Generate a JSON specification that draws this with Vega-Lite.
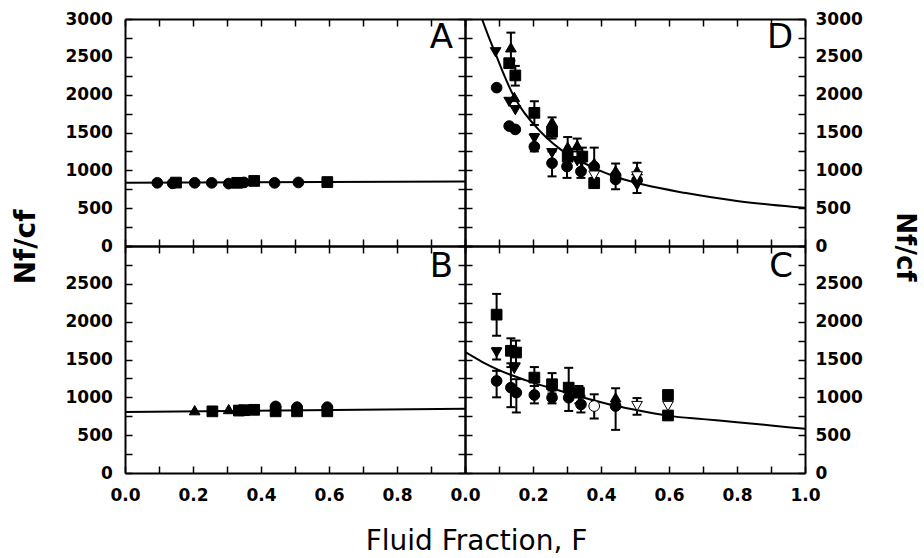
{
  "$schema": "https://vega.github.io/schema/vega-lite/v6.json",
  "padding": {"left": 12, "top": 10, "right": 2, "bottom": 2},
  "datasets": {
    "curves": [
      {"p": "A", "F": 0, "v": 835}, {"p": "A", "F": 1, "v": 853},
      {"p": "B", "F": 0, "v": 805}, {"p": "B", "F": 1, "v": 850},
      {"p": "D", "F": 0.05, "v": 3000}, {"p": "D", "F": 0.07, "v": 2760}, {"p": "D", "F": 0.09, "v": 2540},
      {"p": "D", "F": 0.115, "v": 2260}, {"p": "D", "F": 0.14, "v": 2010}, {"p": "D", "F": 0.17, "v": 1790},
      {"p": "D", "F": 0.2, "v": 1620}, {"p": "D", "F": 0.24, "v": 1430}, {"p": "D", "F": 0.28, "v": 1280},
      {"p": "D", "F": 0.34, "v": 1120}, {"p": "D", "F": 0.4, "v": 990}, {"p": "D", "F": 0.45, "v": 905},
      {"p": "D", "F": 0.53, "v": 805}, {"p": "D", "F": 0.65, "v": 700}, {"p": "D", "F": 0.8, "v": 595},
      {"p": "D", "F": 0.9, "v": 545}, {"p": "D", "F": 1, "v": 504},
      {"p": "C", "F": 0, "v": 1600}, {"p": "C", "F": 0.05, "v": 1470}, {"p": "C", "F": 0.1, "v": 1360},
      {"p": "C", "F": 0.2, "v": 1194}, {"p": "C", "F": 0.3, "v": 1060}, {"p": "C", "F": 0.4, "v": 935},
      {"p": "C", "F": 0.5, "v": 835}, {"p": "C", "F": 0.6, "v": 755}, {"p": "C", "F": 0.7, "v": 712},
      {"p": "C", "F": 0.8, "v": 672}, {"p": "C", "F": 0.9, "v": 628}, {"p": "C", "F": 1, "v": 584}
    ],
    "pts": [
      {"p": "A", "F": 0.095, "v": 835, "s": "circle"},
      {"p": "A", "F": 0.14, "v": 828, "s": "circle"},
      {"p": "A", "F": 0.15, "v": 838, "s": "square"},
      {"p": "A", "F": 0.205, "v": 835, "s": "circle"},
      {"p": "A", "F": 0.255, "v": 835, "s": "circle"},
      {"p": "A", "F": 0.305, "v": 825, "s": "circle"},
      {"p": "A", "F": 0.33, "v": 835, "s": "square"},
      {"p": "A", "F": 0.35, "v": 840, "s": "circle"},
      {"p": "A", "F": 0.38, "v": 860, "s": "square"},
      {"p": "A", "F": 0.44, "v": 835, "s": "circle"},
      {"p": "A", "F": 0.51, "v": 840, "s": "circle"},
      {"p": "A", "F": 0.595, "v": 845, "s": "square"},
      {"p": "B", "F": 0.205, "v": 830, "s": "up"},
      {"p": "B", "F": 0.257, "v": 815, "s": "square"},
      {"p": "B", "F": 0.305, "v": 845, "s": "up"},
      {"p": "B", "F": 0.335, "v": 825, "s": "square"},
      {"p": "B", "F": 0.35, "v": 830, "s": "square"},
      {"p": "B", "F": 0.38, "v": 835, "s": "square"},
      {"p": "B", "F": 0.443, "v": 880, "s": "circle"},
      {"p": "B", "F": 0.443, "v": 815, "s": "square"},
      {"p": "B", "F": 0.506, "v": 870, "s": "circle"},
      {"p": "B", "F": 0.506, "v": 815, "s": "square"},
      {"p": "B", "F": 0.595, "v": 870, "s": "circle"},
      {"p": "B", "F": 0.595, "v": 815, "s": "square"},
      {"p": "D", "F": 0.09, "v": 2560, "s": "down"},
      {"p": "D", "F": 0.093, "v": 2093, "s": "circle"},
      {"p": "D", "F": 0.13, "v": 2416, "s": "square"},
      {"p": "D", "F": 0.135, "v": 2626, "s": "up", "lo": 2450, "hi": 2820},
      {"p": "D", "F": 0.148, "v": 2254, "s": "square", "lo": 2120, "hi": 2380},
      {"p": "D", "F": 0.145, "v": 1970, "s": "up"},
      {"p": "D", "F": 0.13, "v": 1904, "s": "down"},
      {"p": "D", "F": 0.148, "v": 1795, "s": "down"},
      {"p": "D", "F": 0.13, "v": 1585, "s": "circle"},
      {"p": "D", "F": 0.148, "v": 1541, "s": "circle"},
      {"p": "D", "F": 0.204, "v": 1760, "s": "square", "lo": 1600, "hi": 1913},
      {"p": "D", "F": 0.204, "v": 1420, "s": "down"},
      {"p": "D", "F": 0.204, "v": 1313, "s": "circle", "lo": 1250, "hi": 1480},
      {"p": "D", "F": 0.256, "v": 1641, "s": "up", "lo": 1580, "hi": 1700},
      {"p": "D", "F": 0.256, "v": 1510, "s": "square", "lo": 1420, "hi": 1600},
      {"p": "D", "F": 0.256, "v": 1226, "s": "down"},
      {"p": "D", "F": 0.256, "v": 1095, "s": "circle", "lo": 920, "hi": 1250},
      {"p": "D", "F": 0.302, "v": 1313, "s": "up", "lo": 1200, "hi": 1440},
      {"p": "D", "F": 0.302, "v": 1180, "s": "square"},
      {"p": "D", "F": 0.3, "v": 1050, "s": "circle", "lo": 900, "hi": 1200},
      {"p": "D", "F": 0.33, "v": 1335, "s": "up", "lo": 1250, "hi": 1420},
      {"p": "D", "F": 0.33, "v": 1120, "s": "down"},
      {"p": "D", "F": 0.345, "v": 1182, "s": "square", "lo": 1000, "hi": 1300},
      {"p": "D", "F": 0.341, "v": 985, "s": "circle", "lo": 900, "hi": 1100},
      {"p": "D", "F": 0.38, "v": 1100, "s": "up", "lo": 1000, "hi": 1300},
      {"p": "D", "F": 0.38, "v": 1050, "s": "circle"},
      {"p": "D", "F": 0.38, "v": 830, "s": "square", "lo": 790, "hi": 900},
      {"p": "D", "F": 0.38, "v": 930, "s": "down", "o": 1},
      {"p": "D", "F": 0.443, "v": 1000, "s": "up", "lo": 930, "hi": 1090},
      {"p": "D", "F": 0.443, "v": 930, "s": "circle"},
      {"p": "D", "F": 0.443, "v": 880, "s": "circle", "lo": 750, "hi": 960},
      {"p": "D", "F": 0.506, "v": 1000, "s": "up", "lo": 900, "hi": 1100},
      {"p": "D", "F": 0.506, "v": 870, "s": "circle"},
      {"p": "D", "F": 0.506, "v": 800, "s": "down", "lo": 700, "hi": 880},
      {"p": "D", "F": 0.506, "v": 920, "s": "down", "o": 1},
      {"p": "C", "F": 0.093, "v": 2093, "s": "square", "lo": 1814, "hi": 2367},
      {"p": "C", "F": 0.093, "v": 1592, "s": "down", "lo": 1500, "hi": 1650},
      {"p": "C", "F": 0.093, "v": 1217, "s": "circle", "lo": 1000, "hi": 1350},
      {"p": "C", "F": 0.135, "v": 1615, "s": "square", "lo": 1450, "hi": 1780},
      {"p": "C", "F": 0.15, "v": 1592, "s": "square", "lo": 1450, "hi": 1750},
      {"p": "C", "F": 0.145, "v": 1376, "s": "down"},
      {"p": "C", "F": 0.135, "v": 1128, "s": "circle", "lo": 870, "hi": 1400},
      {"p": "C", "F": 0.151, "v": 1062, "s": "circle", "lo": 800, "hi": 1240},
      {"p": "C", "F": 0.204, "v": 1261, "s": "square", "lo": 1150, "hi": 1400},
      {"p": "C", "F": 0.204, "v": 1031, "s": "circle", "lo": 920, "hi": 1150},
      {"p": "C", "F": 0.256, "v": 1173, "s": "square", "lo": 1050, "hi": 1320},
      {"p": "C", "F": 0.256, "v": 1100, "s": "down"},
      {"p": "C", "F": 0.256, "v": 995, "s": "circle", "lo": 920, "hi": 1090},
      {"p": "C", "F": 0.305, "v": 1128, "s": "square", "lo": 1000, "hi": 1390},
      {"p": "C", "F": 0.305, "v": 995, "s": "circle", "lo": 820, "hi": 1100},
      {"p": "C", "F": 0.335, "v": 1062, "s": "square", "lo": 920, "hi": 1150},
      {"p": "C", "F": 0.341, "v": 907, "s": "circle", "lo": 800, "hi": 1020},
      {"p": "C", "F": 0.38, "v": 885, "s": "circle", "o": 1, "lo": 720, "hi": 1040},
      {"p": "C", "F": 0.443, "v": 1000, "s": "up"},
      {"p": "C", "F": 0.443, "v": 885, "s": "circle", "lo": 570, "hi": 1120},
      {"p": "C", "F": 0.506, "v": 885, "s": "down", "o": 1, "lo": 770, "hi": 990},
      {"p": "C", "F": 0.597, "v": 1031, "s": "square"},
      {"p": "C", "F": 0.597, "v": 760, "s": "square", "lo": 720, "hi": 800},
      {"p": "C", "F": 0.597, "v": 885, "s": "down", "o": 1}
    ],
    "letters": [
      {"p": "A", "F": 0.965, "v": 2750, "t": "A"},
      {"p": "D", "F": 0.965, "v": 2750, "t": "D"},
      {"p": "B", "F": 0.965, "v": 2720, "t": "B"},
      {"p": "C", "F": 0.965, "v": 2720, "t": "C"}
    ]
  },
  "columns": 2,
  "spacing": 0,
  "bounds": "flush",
  "concat": [
    {
      "width": 340, "height": 227,
      "resolve": {"axis": {"x": "independent", "y": "independent"}},
      "layer": [
        {"data": {"name": "curves"}, "transform": [{"filter": "datum.p === 'A'"}],
         "mark": {"type": "line", "color": "black", "strokeWidth": 2, "clip": true},
         "encoding": {
           "x": {"field": "F", "type": "quantitative", "scale": {"domain": [0, 1], "nice": false, "zero": false},
                 "axis": {"orient": "bottom", "values": [0,0.1,0.2,0.3,0.4,0.5,0.6,0.7,0.8,0.9,1], "labels": false, "title": null}},
           "y": {"field": "v", "type": "quantitative", "scale": {"domain": [0, 3000], "nice": false},
                 "axis": {"orient": "left", "values": [0,250,500,750,1000,1250,1500,1750,2000,2250,2500,2750,3000],
                          "labelExpr": "datum.value % 500 === 0 ? format(datum.value, 'd') : ''",
                          "title": "Nf/cf", "titleAngle": -90, "titleBaseline": "alphabetic", "titleAlign": "center", "titleX": -91, "titleY": 227.5}}
         }},
        {"data": {"name": "pts"}, "transform": [{"filter": "datum.p === 'A'"}],
         "mark": {"type": "point", "filled": true, "opacity": 1, "size": 115, "stroke": "black", "strokeWidth": 1},
         "encoding": {
           "x": {"field": "F", "type": "quantitative", "axis": {"orient": "top", "values": [0,0.1,0.2,0.3,0.4,0.5,0.6,0.7,0.8,0.9,1], "labels": false, "title": null}},
           "y": {"field": "v", "type": "quantitative", "axis": {"orient": "right", "values": [0,250,500,750,1000,1250,1500,1750,2000,2250,2500,2750,3000], "labels": false, "title": null}},
           "shape": {"field": "s", "type": "nominal", "scale": {"domain": ["circle", "square", "up", "down"], "range": ["circle", "square", "triangle-up", "triangle-down"]}, "legend": null},
           "fill": {"condition": {"test": "datum.o === 1", "value": "white"}, "value": "black"}
         }},
        {"data": {"name": "letters"}, "transform": [{"filter": "datum.p === 'A'"}],
         "mark": {"type": "text", "align": "right", "baseline": "middle", "font": "DejaVu Sans", "fontSize": 34, "color": "black"},
         "encoding": {"x": {"field": "F", "type": "quantitative", "axis": null}, "y": {"field": "v", "type": "quantitative", "axis": null}, "text": {"field": "t"}}}
      ]
    },
    {
      "width": 340, "height": 227,
      "resolve": {"axis": {"x": "independent", "y": "independent"}},
      "layer": [
        {"data": {"name": "curves"}, "transform": [{"filter": "datum.p === 'D'"}],
         "mark": {"type": "line", "color": "black", "strokeWidth": 2, "clip": true, "interpolate": "monotone"},
         "encoding": {
           "x": {"field": "F", "type": "quantitative", "scale": {"domain": [0, 1], "nice": false, "zero": false},
                 "axis": {"orient": "bottom", "values": [0,0.1,0.2,0.3,0.4,0.5,0.6,0.7,0.8,0.9,1], "labels": false, "title": null}},
           "y": {"field": "v", "type": "quantitative", "scale": {"domain": [0, 3000], "nice": false},
                 "axis": {"orient": "right", "values": [0,250,500,750,1000,1250,1500,1750,2000,2250,2500,2750,3000],
                          "labelExpr": "datum.value % 500 === 0 ? format(datum.value, 'd') : ''", "labelPadding": 17,
                          "title": "Nf/cf", "titleFontSize": 26, "titleAngle": 90, "titleBaseline": "alphabetic", "titleAlign": "center", "titleX": 91, "titleY": 227.5}}
         }},
        {"data": {"name": "pts"}, "transform": [{"filter": "datum.p === 'D' && isValid(datum.lo)"}],
         "mark": {"type": "rule", "color": "black", "strokeWidth": 2},
         "encoding": {"x": {"field": "F", "type": "quantitative", "axis": null}, "y": {"field": "lo", "type": "quantitative", "axis": null}, "y2": {"field": "hi"}}},
        {"data": {"name": "pts"}, "transform": [{"filter": "datum.p === 'D' && isValid(datum.lo)"}],
         "mark": {"type": "tick", "orient": "horizontal", "color": "black", "size": 9, "thickness": 2, "opacity": 1},
         "encoding": {"x": {"field": "F", "type": "quantitative", "axis": null}, "y": {"field": "lo", "type": "quantitative", "axis": null}}},
        {"data": {"name": "pts"}, "transform": [{"filter": "datum.p === 'D' && isValid(datum.lo)"}],
         "mark": {"type": "tick", "orient": "horizontal", "color": "black", "size": 9, "thickness": 2, "opacity": 1},
         "encoding": {"x": {"field": "F", "type": "quantitative", "axis": null}, "y": {"field": "hi", "type": "quantitative", "axis": null}}},
        {"data": {"name": "pts"}, "transform": [{"filter": "datum.p === 'D'"}],
         "mark": {"type": "point", "filled": true, "opacity": 1, "size": 115, "stroke": "black", "strokeWidth": 1},
         "encoding": {
           "x": {"field": "F", "type": "quantitative", "axis": {"orient": "top", "values": [0,0.1,0.2,0.3,0.4,0.5,0.6,0.7,0.8,0.9,1], "labels": false, "title": null}},
           "y": {"field": "v", "type": "quantitative", "axis": {"orient": "left", "values": [0,250,500,750,1000,1250,1500,1750,2000,2250,2500,2750,3000], "labels": false, "title": null}},
           "shape": {"field": "s", "type": "nominal", "scale": {"domain": ["circle", "square", "up", "down"], "range": ["circle", "square", "triangle-up", "triangle-down"]}, "legend": null},
           "fill": {"condition": {"test": "datum.o === 1", "value": "white"}, "value": "black"}
         }},
        {"data": {"name": "letters"}, "transform": [{"filter": "datum.p === 'D'"}],
         "mark": {"type": "text", "align": "right", "baseline": "middle", "font": "DejaVu Sans", "fontSize": 34, "color": "black"},
         "encoding": {"x": {"field": "F", "type": "quantitative", "axis": null}, "y": {"field": "v", "type": "quantitative", "axis": null}, "text": {"field": "t"}}}
      ]
    },
    {
      "width": 340, "height": 227,
      "resolve": {"axis": {"x": "independent", "y": "independent"}},
      "layer": [
        {"data": {"name": "curves"}, "transform": [{"filter": "datum.p === 'B'"}],
         "mark": {"type": "line", "color": "black", "strokeWidth": 2, "clip": true},
         "encoding": {
           "x": {"field": "F", "type": "quantitative", "scale": {"domain": [0, 1], "nice": false, "zero": false},
                 "axis": {"orient": "bottom", "values": [0,0.1,0.2,0.3,0.4,0.5,0.6,0.7,0.8,0.9,1], "labelPadding": 21,
                          "labelExpr": "indexof([0,0.2,0.4,0.6,0.8], datum.value) >= 0 ? format(datum.value, '.1f') : ''",
                          "title": "Fluid Fraction, F", "titleFontWeight": "normal", "titleFontSize": 28, "titleBaseline": "alphabetic", "titleAlign": "center", "titleX": 351, "titleY": 76}},
           "y": {"field": "v", "type": "quantitative", "scale": {"domain": [0, 3000], "nice": false},
                 "axis": {"orient": "left", "values": [0,250,500,750,1000,1250,1500,1750,2000,2250,2500,2750,3000],
                          "labelExpr": "datum.value % 500 === 0 && datum.value < 3000 ? format(datum.value, 'd') : ''", "title": null}}
         }},
        {"data": {"name": "pts"}, "transform": [{"filter": "datum.p === 'B'"}],
         "mark": {"type": "point", "filled": true, "opacity": 1, "size": 115, "stroke": "black", "strokeWidth": 1},
         "encoding": {
           "x": {"field": "F", "type": "quantitative", "axis": {"orient": "top", "values": [0,0.1,0.2,0.3,0.4,0.5,0.6,0.7,0.8,0.9,1], "labels": false, "title": null}},
           "y": {"field": "v", "type": "quantitative", "axis": {"orient": "right", "values": [0,250,500,750,1000,1250,1500,1750,2000,2250,2500,2750,3000], "labels": false, "title": null}},
           "shape": {"field": "s", "type": "nominal", "scale": {"domain": ["circle", "square", "up", "down"], "range": ["circle", "square", "triangle-up", "triangle-down"]}, "legend": null},
           "fill": {"condition": {"test": "datum.o === 1", "value": "white"}, "value": "black"}
         }},
        {"data": {"name": "letters"}, "transform": [{"filter": "datum.p === 'B'"}],
         "mark": {"type": "text", "align": "right", "baseline": "middle", "font": "DejaVu Sans", "fontSize": 34, "color": "black"},
         "encoding": {"x": {"field": "F", "type": "quantitative", "axis": null}, "y": {"field": "v", "type": "quantitative", "axis": null}, "text": {"field": "t"}}}
      ]
    },
    {
      "width": 340, "height": 227,
      "resolve": {"axis": {"x": "independent", "y": "independent"}},
      "layer": [
        {"data": {"name": "curves"}, "transform": [{"filter": "datum.p === 'C'"}],
         "mark": {"type": "line", "color": "black", "strokeWidth": 2, "clip": true, "interpolate": "monotone"},
         "encoding": {
           "x": {"field": "F", "type": "quantitative", "scale": {"domain": [0, 1], "nice": false, "zero": false},
                 "axis": {"orient": "bottom", "values": [0,0.1,0.2,0.3,0.4,0.5,0.6,0.7,0.8,0.9,1], "labelPadding": 21,
                          "labelExpr": "indexof([0,0.2,0.4,0.6,0.8,1], datum.value) >= 0 ? format(datum.value, '.1f') : ''", "title": null}},
           "y": {"field": "v", "type": "quantitative", "scale": {"domain": [0, 3000], "nice": false},
                 "axis": {"orient": "right", "values": [0,250,500,750,1000,1250,1500,1750,2000,2250,2500,2750,3000], "labelPadding": 17,
                          "labelExpr": "datum.value % 500 === 0 && datum.value < 3000 ? format(datum.value, 'd') : ''", "title": null}}
         }},
        {"data": {"name": "pts"}, "transform": [{"filter": "datum.p === 'C' && isValid(datum.lo)"}],
         "mark": {"type": "rule", "color": "black", "strokeWidth": 2},
         "encoding": {"x": {"field": "F", "type": "quantitative", "axis": null}, "y": {"field": "lo", "type": "quantitative", "axis": null}, "y2": {"field": "hi"}}},
        {"data": {"name": "pts"}, "transform": [{"filter": "datum.p === 'C' && isValid(datum.lo)"}],
         "mark": {"type": "tick", "orient": "horizontal", "color": "black", "size": 9, "thickness": 2, "opacity": 1},
         "encoding": {"x": {"field": "F", "type": "quantitative", "axis": null}, "y": {"field": "lo", "type": "quantitative", "axis": null}}},
        {"data": {"name": "pts"}, "transform": [{"filter": "datum.p === 'C' && isValid(datum.lo)"}],
         "mark": {"type": "tick", "orient": "horizontal", "color": "black", "size": 9, "thickness": 2, "opacity": 1},
         "encoding": {"x": {"field": "F", "type": "quantitative", "axis": null}, "y": {"field": "hi", "type": "quantitative", "axis": null}}},
        {"data": {"name": "pts"}, "transform": [{"filter": "datum.p === 'C'"}],
         "mark": {"type": "point", "filled": true, "opacity": 1, "size": 115, "stroke": "black", "strokeWidth": 1},
         "encoding": {
           "x": {"field": "F", "type": "quantitative", "axis": {"orient": "top", "values": [0,0.1,0.2,0.3,0.4,0.5,0.6,0.7,0.8,0.9,1], "labels": false, "title": null}},
           "y": {"field": "v", "type": "quantitative", "axis": {"orient": "left", "values": [0,250,500,750,1000,1250,1500,1750,2000,2250,2500,2750,3000], "labels": false, "title": null}},
           "shape": {"field": "s", "type": "nominal", "scale": {"domain": ["circle", "square", "up", "down"], "range": ["circle", "square", "triangle-up", "triangle-down"]}, "legend": null},
           "fill": {"condition": {"test": "datum.o === 1", "value": "white"}, "value": "black"}
         }},
        {"data": {"name": "letters"}, "transform": [{"filter": "datum.p === 'C'"}],
         "mark": {"type": "text", "align": "right", "baseline": "middle", "font": "DejaVu Sans", "fontSize": 34, "color": "black"},
         "encoding": {"x": {"field": "F", "type": "quantitative", "axis": null}, "y": {"field": "v", "type": "quantitative", "axis": null}, "text": {"field": "t"}}}
      ]
    }
  ],
  "config": {
    "view": {"stroke": null},
    "axis": {
      "grid": false, "domainColor": "black", "domainWidth": 2, "tickColor": "black", "tickWidth": 1.5, "tickSize": -7,
      "labelFont": "DejaVu Sans", "labelFontWeight": "bold", "labelFontSize": 17, "labelColor": "black",
      "labelFlush": false, "labelOverlap": false, "labelPadding": 19.7,
      "titleFont": "DejaVu Sans", "titleFontWeight": "bold", "titleFontSize": 28, "titleColor": "black"
    }
  }
}
